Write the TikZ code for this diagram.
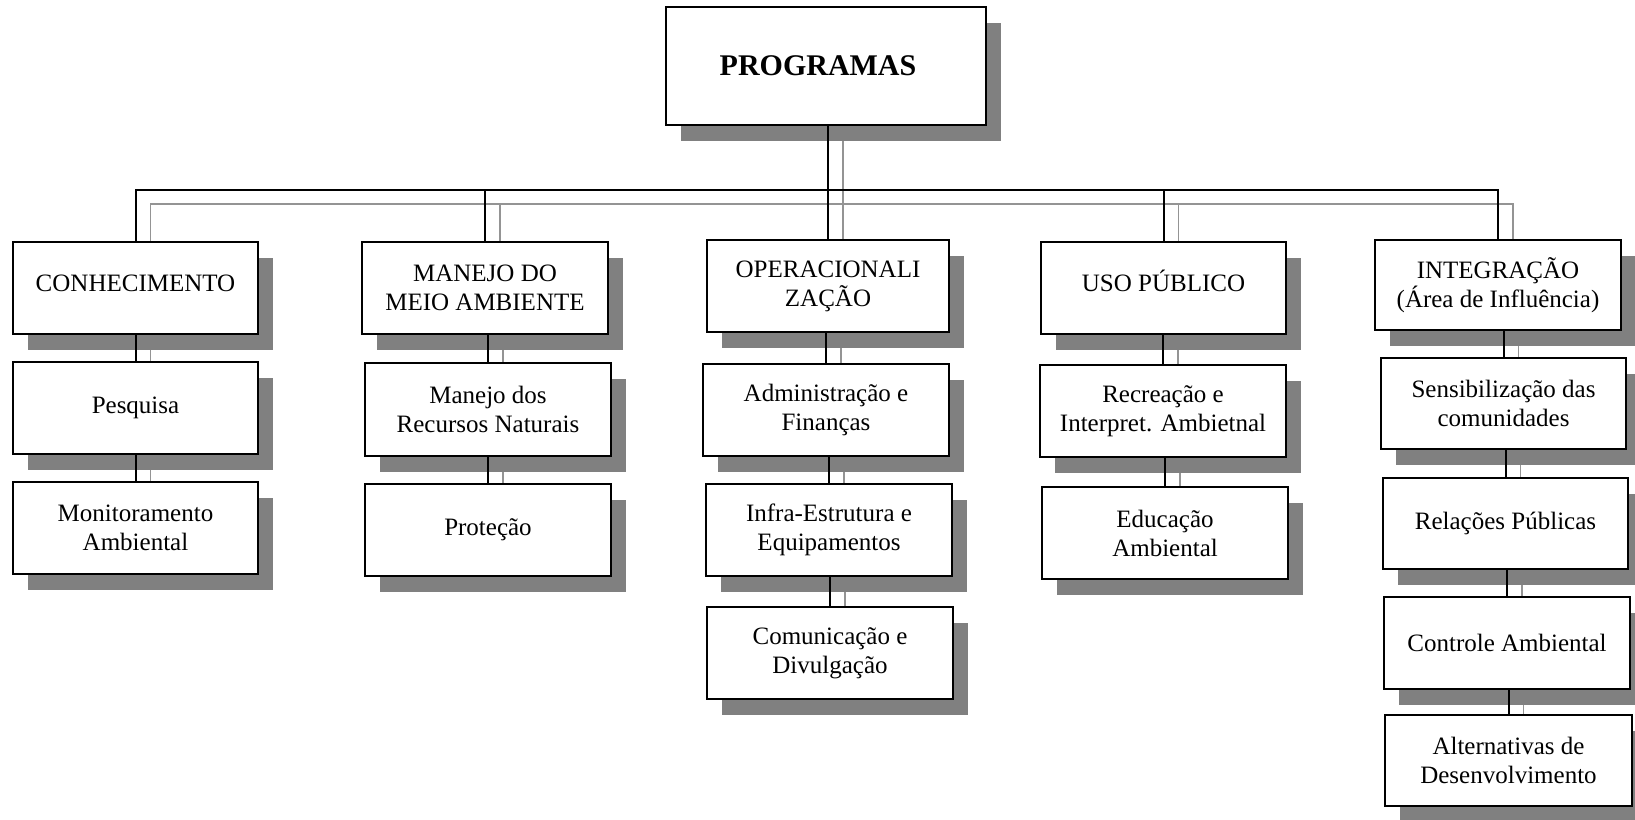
\documentclass[tikz,border=0pt]{standalone}
\usepackage{fontspec}
\setmainfont{Liberation Serif}
\usetikzlibrary{shadows,backgrounds}
\definecolor{shadowgray}{HTML}{808080}
\definecolor{linegray}{HTML}{949494}
\tikzset{
  orgbox/.style={draw=black, line width=1.6pt, fill=white, align=center, inner sep=0pt,
    minimum width=245pt, minimum height=92pt,
    font=\fontsize{25}{29}\selectfont,
    drop shadow={shadow xshift=15pt, shadow yshift=-16pt, fill=shadowgray, draw=none, opacity=1}},
  raised/.style={text height=17pt, text depth=11pt},
  conn/.style={line width=2pt, draw=black},
  connshadow/.style={line width=1.8pt, draw=linegray}
}
\newcommand{\allconnectors}[1]{%
  \draw[#1] (con.north) -- (con.north |- busy) -- (int.north |- busy) -- (int.north);
  \draw[#1] (man.north) -- (man.north |- busy);
  \draw[#1] (ope.north) -- (ope.north |- prog.south);
  \draw[#1] (uso.north) -- (uso.north |- busy);
  \draw[#1] (pes.north) -- (pes.north |- con.south);
  \draw[#1] (mon.north) -- (mon.north |- pes.south);
  \draw[#1] (mrn.north) -- (mrn.north |- man.south);
  \draw[#1] (pro.north) -- (pro.north |- mrn.south);
  \draw[#1] (adm.north) -- (adm.north |- ope.south);
  \draw[#1] (inf.north) -- (inf.north |- adm.south);
  \draw[#1] (com.north) -- (com.north |- inf.south);
  \draw[#1] (rec.north) -- (rec.north |- uso.south);
  \draw[#1] (edu.north) -- (edu.north |- rec.south);
  \draw[#1] (sen.north) -- (sen.north |- int.south);
  \draw[#1] (rel.north) -- (rel.north |- sen.south);
  \draw[#1] (ctl.north) -- (ctl.north |- rel.south);
  \draw[#1] (alt.north) -- (alt.north |- ctl.south);
}
\begin{document}
\begin{tikzpicture}[x=1pt,y=-1pt]
\useasboundingbox (0,0) rectangle (1635,819);
\coordinate (busy) at (0,190);
% top
\node[orgbox, minimum width=320pt, minimum height=118pt, font=\fontsize{30}{36}\selectfont\bfseries] (prog) at (826,66) {PROGRAMAS\hspace*{16pt}};
% level 1
\node[orgbox, raised] (con) at (135.5,288) {CONHECIMENTO};
\node[orgbox, minimum width=246pt] (man) at (485,288) {MANEJO DO\\MEIO AMBIENTE};
\node[orgbox, minimum width=242pt] (ope) at (828,286) {OPERACIONALI\\ZAÇÃO};
\node[orgbox, raised] (uso) at (1163.5,288) {USO PÚBLICO};
\node[orgbox, minimum width=246pt, minimum height=90pt] (int) at (1498,285) {INTEGRAÇÃO\\(Área de Influência)};
% column 1
\node[orgbox] (pes) at (135.5,408) {Pesquisa};
\node[orgbox] (mon) at (135.5,528) {Monitoramento\\Ambiental};
% column 2
\node[orgbox, minimum width=246pt, minimum height=93pt] (mrn) at (488,409.5) {Manejo dos\\Recursos Naturais};
\node[orgbox, minimum width=246pt] (pro) at (488,530) {Proteção};
% column 3
\node[orgbox, minimum width=246pt] (adm) at (826,410) {Administração e\\Finanças};
\node[orgbox, minimum width=246pt] (inf) at (829,530) {Infra-Estrutura e\\Equipamentos};
\node[orgbox, minimum width=246pt] (com) at (830,653) {Comunicação e\\Divulgação};
% column 4
\node[orgbox, minimum width=246pt] (rec) at (1163,411) {Recreação e\\Interpret. Ambietnal};
\node[orgbox, minimum width=246pt] (edu) at (1165,533) {Educação\\Ambiental};
% column 5
\node[orgbox, minimum height=91pt] (sen) at (1503.5,403.5) {Sensibilização das\\comunidades};
\node[orgbox, minimum height=91pt] (rel) at (1505.5,523.5) {Relações Públicas};
\node[orgbox, minimum width=246pt] (ctl) at (1507,643) {Controle Ambiental};
\node[orgbox, minimum width=247pt, minimum height=91pt] (alt) at (1508.5,760.5) {Alternativas de\\Desenvolvimento};
% connectors
\begin{scope}[on background layer]
  \begin{scope}[transform canvas={shift={(15pt,-14pt)}}]
    \allconnectors{connshadow}
  \end{scope}
\end{scope}
\allconnectors{conn}
\end{tikzpicture}
\end{document}
